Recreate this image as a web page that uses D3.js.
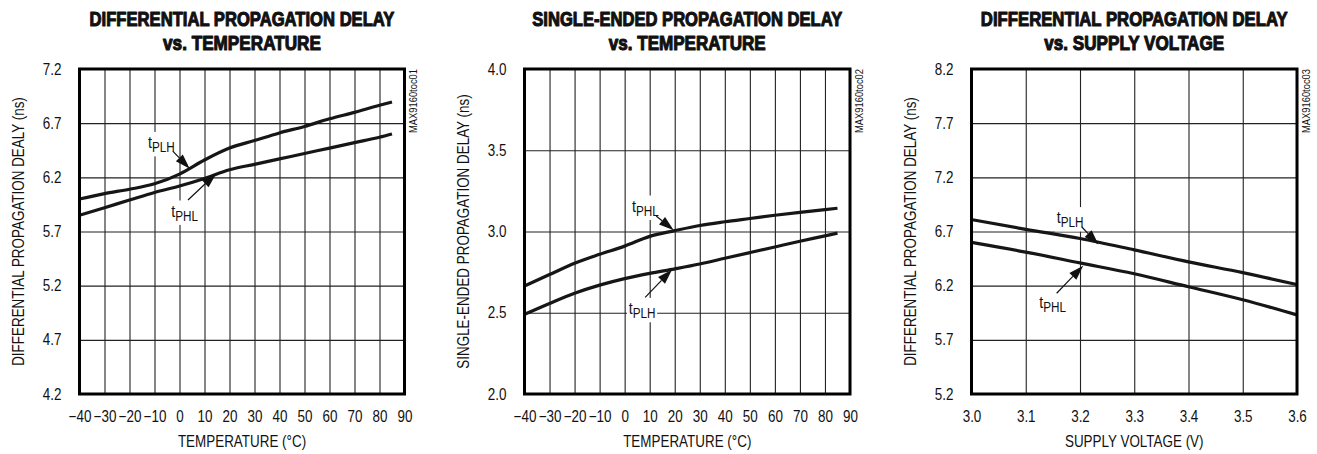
<!DOCTYPE html>
<html>
<head>
<meta charset="utf-8">
<script src="https://cdn.jsdelivr.net/npm/d3@7"></script>
<style>
  html, body { margin: 0; padding: 0; background: #fff; }
  svg { display: block; }
  text { font-family: "Liberation Sans", Arial, sans-serif; fill: #111; }
</style>
</head>
<body>
<svg id="chart" width="1317" height="454"></svg>
<script>
// ---------------- DATA ----------------
const tempC = [-40, -30, -20, -10, 0, 10, 20, 30, 40, 50, 60, 70, 80, 85];
const diffTplhTemp = [6.00, 6.05, 6.09, 6.14, 6.23, 6.36, 6.47, 6.54, 6.61, 6.67, 6.74, 6.80, 6.865, 6.895];
const diffTphlTemp = [5.85, 5.92, 5.99, 6.06, 6.12, 6.19, 6.27, 6.32, 6.37, 6.42, 6.47, 6.52, 6.57, 6.60];
const seTphlTemp = [2.665, 2.735, 2.805, 2.86, 2.91, 2.97, 3.005, 3.037, 3.06, 3.08, 3.10, 3.118, 3.135, 3.143];
const seTplhTemp = [2.49, 2.557, 2.62, 2.67, 2.71, 2.742, 2.77, 2.80, 2.835, 2.87, 2.905, 2.94, 2.973, 2.99];
const supplyV = [3.0, 3.1, 3.2, 3.3, 3.4, 3.5, 3.6];
const diffTplhVolt = [6.81, 6.72, 6.635, 6.53, 6.42, 6.32, 6.21];
const diffTphlVolt = [6.60, 6.51, 6.41, 6.31, 6.19, 6.07, 5.93];

// tick labels
const tempTicks = [-40, -30, -20, -10, 0, 10, 20, 30, 40, 50, 60, 70, 80, 90];
const voltTicks = [3.0, 3.1, 3.2, 3.3, 3.4, 3.5, 3.6];
const diffTempTicks = [4.2, 4.7, 5.2, 5.7, 6.2, 6.7, 7.2];
const seTicks = [2.0, 2.5, 3.0, 3.5, 4.0];
const diffVoltTicks = [5.2, 5.7, 6.2, 6.7, 7.2, 7.7, 8.2];

// texts
const titles = [
  ["DIFFERENTIAL PROPAGATION DELAY", "vs. TEMPERATURE"],
  ["SINGLE-ENDED PROPAGATION DELAY", "vs. TEMPERATURE"],
  ["DIFFERENTIAL PROPAGATION DELAY", "vs. SUPPLY VOLTAGE"]
];
const yTitles = ["DIFFERENTIAL PROPAGATION DEALY (ns)", "SINGLE-ENDED PROPAGATION DELAY (ns)", "DIFFERENTIAL PROPAGATION DELAY (ns)"];
const xTitles = ["TEMPERATURE (\u00B0C)", "TEMPERATURE (\u00B0C)", "SUPPLY VOLTAGE (V)"];
const tocIds = ["MAX9160toc01", "MAX9160toc02", "MAX9160toc03"];

// annotations (data coordinates): label anchor, arrow start, arrow tip
const annot1 = [
  { sub: "PLH", label: [-12.6, 6.47], from: [-2.6, 6.44], to: [4.1, 6.28] },
  { sub: "PHL", label: [-3.3, 5.837], from: [3.4, 5.991], to: [14.7, 6.235] }
];
const annot2 = [
  { sub: "PHL", label: [2.9, 3.122], from: [12.6, 3.095], to: [19.6, 3.008] },
  { sub: "PLH", label: [1.6, 2.492], from: [8.2, 2.595], to: [18.9, 2.765] }
];
const annot3 = [
  { sub: "PLH", label: [3.157, 6.776], from: [3.203, 6.744], to: [3.234, 6.58] },
  { sub: "PHL", label: [3.125, 5.991], from: [3.157, 6.13], to: [3.206, 6.385] }
];

// ---------------- LAYOUT ----------------
const layout = [
  { left: 79.5, top: 69, w: 325, h: 325, tw: [305, 158] },
  { left: 524.5, top: 69, w: 325.5, h: 325, tw: [310, 157] },
  { left: 971.5, top: 69, w: 325.5, h: 325, tw: [307, 180] }
];
const SX = 0.84; // horizontal condensing of text

const panels = [
  { xDom: [-40, 90], yDom: [4.2, 7.2], xTicks: tempTicks, yTicks: diffTempTicks, xFmt: d3.format("d"),
    x: tempC, series: [diffTplhTemp, diffTphlTemp], annot: annot1 },
  { xDom: [-40, 90], yDom: [2.0, 4.0], xTicks: tempTicks, yTicks: seTicks, xFmt: d3.format("d"),
    x: tempC, series: [seTphlTemp, seTplhTemp], annot: annot2 },
  { xDom: [3.0, 3.6], yDom: [5.2, 8.2], xTicks: voltTicks, yTicks: diffVoltTicks, xFmt: d3.format(".1f"),
    x: supplyV, series: [diffTplhVolt, diffTphlVolt], annot: annot3 }
];

const svg = d3.select("#chart");

panels.forEach((p, i) => {
  const L = layout[i];
  const g = svg.append("g").attr("transform", `translate(${L.left},${L.top})`);
  const x = d3.scaleLinear().domain(p.xDom).range([0, L.w]);
  const y = d3.scaleLinear().domain(p.yDom).range([L.h, 0]);
  const cx = L.left + L.w / 2;

  // titles (condensed via horizontal scale to the target width)
  titles[i].forEach((t, k) => {
    const tg = svg.append("g");
    const te = tg.append("text")
      .attr("x", 0).attr("y", 0)
      .attr("text-anchor", "middle")
      .attr("font-size", 20).attr("font-weight", "bold")
      .attr("stroke", "#111").attr("stroke-width", 1.1).attr("stroke-linejoin", "round")
      .text(t);
    const nat = te.node().getComputedTextLength();
    tg.attr("transform", `translate(${cx},${k === 0 ? 26 : 50}) scale(${L.tw[k] / nat},1)`);
  });

  // grid
  const gx = g.append("g").attr("class", "grid")
    .attr("transform", `translate(0,${L.h})`)
    .call(d3.axisBottom(x).tickValues(p.xTicks).tickSize(-L.h).tickFormat(""));
  const gy = g.append("g").attr("class", "grid")
    .call(d3.axisLeft(y).tickValues(p.yTicks).tickSize(-L.w).tickFormat(""));
  [gx, gy].forEach(s => {
    s.select(".domain").remove();
    s.selectAll("line").attr("stroke", "#222").attr("stroke-width", 1.1);
  });

  // tick labels
  const ax = g.append("g").attr("transform", `translate(0,${L.h})`)
    .call(d3.axisBottom(x).tickValues(p.xTicks).tickSize(0).tickPadding(17).tickFormat(p.xFmt));
  const ay = g.append("g")
    .call(d3.axisLeft(y).tickValues(p.yTicks).tickSize(0).tickFormat(d3.format(".1f")));
  [ax, ay].forEach(s => {
    s.select(".domain").remove();
    s.selectAll("text").attr("font-size", 16).attr("font-family", "Liberation Sans, Arial, sans-serif")
      .attr("fill", "#111").attr("transform", `scale(${SX},1)`);
  });
  ay.selectAll("text").attr("x", -18 / SX);

  // data lines
  const line = d3.line().x(d => x(d[0])).y(d => y(d[1])).curve(d3.curveMonotoneX);
  p.series.forEach(s => {
    g.append("path")
      .datum(p.x.map((xv, j) => [xv, s[j]]))
      .attr("d", line)
      .attr("fill", "none").attr("stroke", "#161616")
      .attr("stroke-width", 3.2).attr("stroke-linejoin", "round");
  });

  // annotations
  p.annot.forEach(a => {
    const lg = g.append("g")
      .attr("transform", `translate(${x(a.label[0])},${y(a.label[1])}) scale(${SX},1)`);
    const t = lg.append("text").attr("font-size", 17);
    t.append("tspan").text("t");
    t.append("tspan").attr("font-size", 14).attr("dy", 4).text(a.sub);
    const bb = t.node().getBBox();
    lg.insert("rect", "text")
      .attr("x", bb.x - 2).attr("y", bb.y - 1)
      .attr("width", bb.width + 4).attr("height", bb.height + 2)
      .attr("fill", "#fff");
    const x1 = x(a.from[0]), y1 = y(a.from[1]), x2 = x(a.to[0]), y2 = y(a.to[1]);
    const dx = x2 - x1, dy = y2 - y1, len = Math.hypot(dx, dy);
    const ux = dx / len, uy = dy / len, hl = 15, hw = 4.8;
    const bx = x2 - ux * hl, by = y2 - uy * hl;
    g.append("line")
      .attr("x1", x1).attr("y1", y1).attr("x2", bx).attr("y2", by)
      .attr("stroke", "#111").attr("stroke-width", 1.2);
    g.append("path")
      .attr("d", `M${x2},${y2}L${bx - uy * hw},${by + ux * hw}L${bx + uy * hw},${by - ux * hw}Z`)
      .attr("fill", "#111");
  });

  // frame
  g.append("rect").attr("width", L.w).attr("height", L.h)
    .attr("fill", "none").attr("stroke", "#000").attr("stroke-width", 3);

  // axis titles
  svg.append("text")
    .attr("transform", `translate(${cx},${L.top + L.h + 53}) scale(${SX},1)`)
    .attr("text-anchor", "middle").attr("font-size", 16)
    .text(xTitles[i]);
  svg.append("text")
    .attr("transform", `translate(${L.left - 56},${L.top + L.h / 2}) rotate(-90) scale(${SX},1)`)
    .attr("text-anchor", "middle").attr("font-size", 16)
    .text(yTitles[i]);

  // toc id
  const tocG = svg.append("g");
  const tocT = tocG.append("text")
    .attr("text-anchor", "end").attr("font-size", 10.5)
    .text(tocIds[i]);
  const tocNat = tocT.node().getComputedTextLength();
  tocG.attr("transform", `translate(${L.left + L.w + 12.5},${L.top}) rotate(-90) scale(${64 / tocNat},1)`);
});
</script>
</body>
</html>
